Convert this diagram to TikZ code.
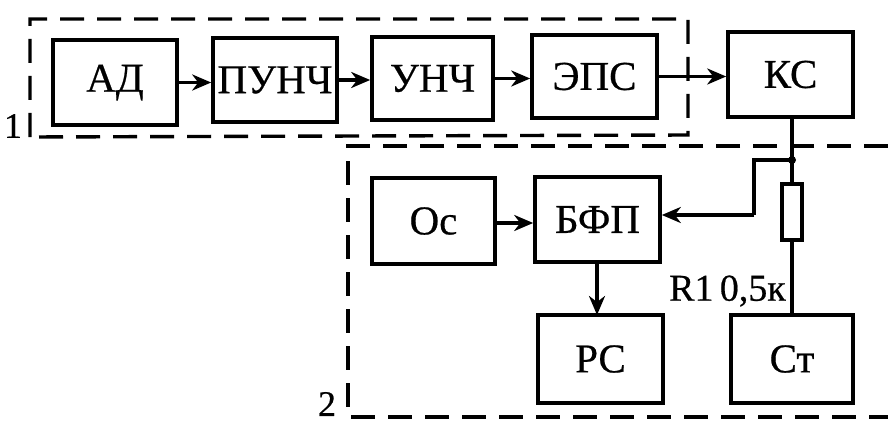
\documentclass[tikz,border=0pt]{standalone}
\usepackage{fontspec}
\setmainfont[FakeBold=0.5]{Liberation Serif}
\usetikzlibrary{arrows.meta}
\begin{document}
\begin{tikzpicture}[x=1pt,y=-1pt,
  blk/.style={draw,line width=3.6pt,inner sep=0pt,font=\fontsize{41}{44}\selectfont},
  conn/.style={line width=3.4pt},
  arr/.style={conn,-{Stealth[length=19pt,width=16pt,inset=6pt]}},
  frame/.style={line width=3.4pt,dash pattern=on 24pt off 13pt},
  lbl/.style={inner sep=0pt,font=\fontsize{36}{40}\selectfont}]
\useasboundingbox (0,0) rectangle (888,425);
% frames
\draw[frame] (30,137) -- (30,19) -- (688,19) -- (688,135) -- cycle;
\draw[frame] (888,146) -- (348,146) -- (348,417) -- (888,417);
\node[lbl] (n1) at (13,126) {1};
\node[lbl] (n2) at (327,404) {2};
% blocks
\node[blk,minimum width=124pt,minimum height=85pt] (ad) at (115,82.5) {АД};
\node[blk,minimum width=124pt,minimum height=84pt] (punch) at (275,80) {ПУНЧ};
\node[blk,minimum width=121pt,minimum height=83pt] (unch) at (432.5,78.5) {УНЧ};
\node[blk,minimum width=125pt,minimum height=83pt] (eps) at (594.5,76.5) {ЭПС};
\node[blk,minimum width=125pt,minimum height=85pt] (ks) at (790.5,74.5) {КС};
\node[blk,minimum width=123pt,minimum height=86pt] (os) at (433.5,221) {Ос};
\node[blk,minimum width=125pt,minimum height=85pt] (bfp) at (597.5,219.5) {БФП};
\node[blk,minimum width=125pt,minimum height=88pt] (rs) at (600.5,359) {РС};
\node[blk,minimum width=122pt,minimum height=88pt] (st) at (792,359) {Ст};
\node[draw,line width=3.4pt,minimum width=20pt,minimum height=56pt,inner sep=0pt] (res) at (792,212) {};
\node[lbl,anchor=east,font=\fontsize{38}{42}\selectfont] (rl) at (786,291) {R1\,0,5к};
% connectors
\draw[arr] (ad.east) -- (ad.east -| punch.west);
\draw[arr] (punch.east) -- (punch.east -| unch.west);
\draw[arr] (unch.east) -- (unch.east -| eps.west);
\draw[arr] (eps.east) -- (eps.east -| ks.west);
\draw[arr] (os.east |- 0,223) -- (bfp.west |- 0,223);
\draw[arr] (597,262) -- (597,315);
\coordinate (j) at (792,160);
\coordinate (b1) at (754,160);
\coordinate (b2) at (754,215);
\draw[conn] (ks.south -| res.north) -- (res.north);
\draw[conn,line join=miter] (j) -- (b1) -- (b2);
\draw[arr] (b2) -- (b2 -| bfp.east);
\draw[conn] (res.south) -- (st.north -| res.south);
\fill (j) circle (4pt);
\end{tikzpicture}
\end{document}
